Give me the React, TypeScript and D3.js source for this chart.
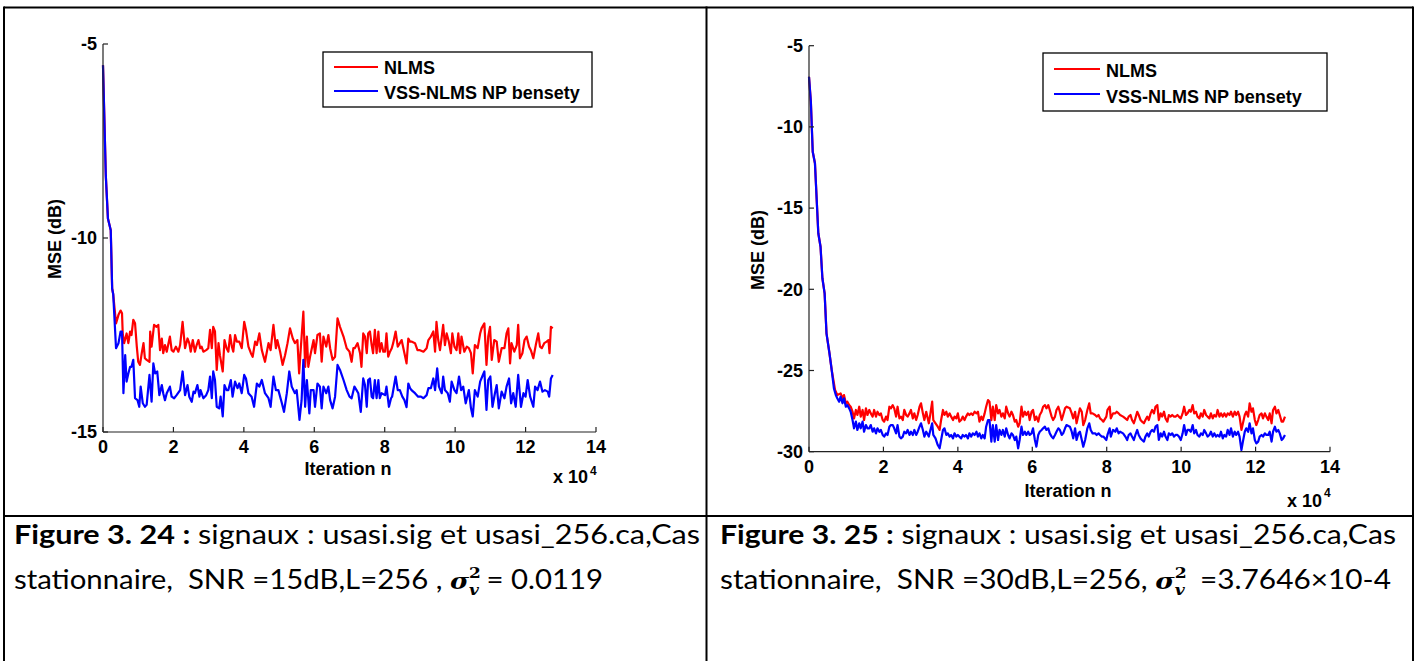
import React from 'react';
import * as d3 from 'd3';

type Pt = [number, number];

const xTicks = [0, 2, 4, 6, 8, 10, 12, 14];
const leftYTicks = [-5, -10, -15];
const rightYTicks = [-5, -10, -15, -20, -25, -30];
const legendLabels = ['NLMS', 'VSS-NLMS NP bensety'];

// Figure 3.24 (SNR 15 dB) — iteration in units of 1e4, MSE in dB
const leftNlms: Pt[] = [
  [0, -5.55], [0.08, -8.4], [0.14, -9.5], [0.22, -9.8], [0.26, -11.3], [0.29, -11.45], [0.37, -12.2], [0.44, -11.98], [0.5, -11.87], [0.54, -11.94],
  [0.56, -12.46], [0.6, -12.71], [0.67, -12.46], [0.72, -12.71], [0.77, -12.41], [0.81, -12.5], [0.86, -12.11], [0.91, -12.2], [0.96, -12.8], [1, -13.19],
  [1.05, -13.27], [1.1, -12.97], [1.15, -12.71], [1.19, -13.1], [1.24, -13.14], [1.32, -13.19], [1.34, -12.41], [1.38, -12.8], [1.45, -12.24], [1.52, -12.29],
  [1.57, -12.24], [1.62, -12.89], [1.67, -12.59], [1.71, -12.97], [1.76, -12.76], [1.81, -12.93], [1.9, -12.54], [1.95, -12.89], [2, -12.93], [2.07, -12.8],
  [2.14, -12.93], [2.19, -12.76], [2.26, -12.16], [2.33, -12.84], [2.4, -12.59], [2.45, -12.71], [2.49, -12.93], [2.55, -12.63], [2.61, -12.93], [2.66, -12.76],
  [2.71, -12.63], [2.76, -12.84], [2.8, -12.8], [2.85, -12.93], [2.93, -12.89], [2.99, -12.84], [3.04, -12.37], [3.09, -12.84], [3.13, -12.29], [3.18, -12.41],
  [3.23, -13.4], [3.28, -12.71], [3.32, -13.02], [3.4, -13.44], [3.45, -12.63], [3.51, -12.84], [3.56, -12.93], [3.61, -12.5], [3.66, -12.8], [3.7, -12.93],
  [3.75, -12.5], [3.8, -12.67], [3.87, -12.67], [3.94, -12.84], [4.01, -12.16], [4.06, -12.37], [4.13, -12.8], [4.2, -12.97], [4.25, -13.06], [4.32, -12.67],
  [4.37, -12.76], [4.44, -12.46], [4.51, -12.89], [4.6, -13.19], [4.7, -12.71], [4.76, -12.89], [4.84, -12.24], [4.91, -12.84], [4.95, -12.63], [5.03, -12.93],
  [5.1, -13.27], [5.17, -13.02], [5.24, -12.71], [5.31, -12.33], [5.39, -12.59], [5.45, -12.71], [5.52, -12.63], [5.57, -13.49], [5.62, -12.8], [5.69, -11.9],
  [5.74, -13.32], [5.79, -12.54], [5.83, -13.32], [5.88, -13.06], [5.98, -12.63], [6.02, -12.97], [6.09, -12.5], [6.16, -12.46], [6.21, -13.19], [6.26, -12.54],
  [6.34, -12.8], [6.4, -12.5], [6.45, -12.84], [6.52, -13.14], [6.59, -13.06], [6.66, -12.07], [6.73, -12.29], [6.83, -12.54], [6.92, -12.84], [7.0, -12.93],
  [7.06, -13.19], [7.11, -12.84], [7.15, -12.84], [7.23, -12.71], [7.3, -12.97], [7.34, -13.32], [7.39, -12.46], [7.44, -12.54], [7.49, -12.97], [7.53, -12.46],
  [7.58, -12.41], [7.63, -12.76], [7.67, -12.97], [7.72, -12.37], [7.77, -12.97], [7.82, -12.41], [7.86, -12.93], [7.91, -12.71], [7.96, -12.93], [8.01, -12.93],
  [8.05, -12.46], [8.1, -13.06], [8.15, -12.93], [8.2, -12.84], [8.24, -12.71], [8.31, -12.41], [8.37, -12.8], [8.43, -12.71], [8.48, -12.63], [8.56, -12.97],
  [8.62, -13.23], [8.67, -12.59], [8.72, -12.67], [8.76, -12.67], [8.86, -12.71], [8.93, -12.89], [9.0, -12.89], [9.1, -12.93], [9.19, -12.84], [9.24, -12.63],
  [9.31, -12.54], [9.38, -12.41], [9.43, -12.93], [9.47, -12.16], [9.52, -12.63], [9.57, -12.89], [9.62, -12.54], [9.66, -12.24], [9.71, -12.76], [9.76, -12.46],
  [9.82, -12.67], [9.88, -12.97], [9.92, -12.46], [9.98, -12.8], [10.04, -12.89], [10.09, -12.46], [10.14, -12.97], [10.18, -12.54], [10.26, -12.93], [10.33, -12.8],
  [10.39, -12.84], [10.45, -12.97], [10.5, -13.49], [10.56, -12.76], [10.64, -12.84], [10.71, -12.46], [10.75, -12.33], [10.83, -12.2], [10.89, -13.27], [10.94, -12.54],
  [10.99, -12.29], [11.04, -13.14], [11.11, -12.63], [11.18, -12.67], [11.24, -13.19], [11.32, -12.84], [11.4, -12.84], [11.46, -12.46], [11.51, -12.33], [11.56, -13.23],
  [11.6, -12.71], [11.68, -12.93], [11.75, -12.76], [11.79, -12.24], [11.84, -13.1], [11.91, -12.97], [11.97, -12.63], [12.03, -12.54], [12.1, -12.8], [12.15, -12.89],
  [12.22, -13.1], [12.29, -12.76], [12.36, -12.46], [12.41, -12.8], [12.46, -12.84], [12.53, -12.71], [12.6, -12.67], [12.65, -12.63], [12.68, -12.97], [12.72, -12.29],
  [12.77, -12.33],
];

const leftVss: Pt[] = [
  [0, -5.55], [0.08, -8.4], [0.14, -9.5], [0.22, -9.8], [0.26, -11.3], [0.29, -11.45], [0.37, -12.84], [0.44, -12.71], [0.5, -12.41], [0.54, -12.41],
  [0.58, -14.0], [0.63, -13.02], [0.67, -13.7], [0.72, -13.49], [0.77, -13.32], [0.81, -13.32], [0.86, -13.14], [0.91, -14.13], [0.98, -14.18], [1.03, -14.35],
  [1.07, -13.83], [1.13, -14.26], [1.19, -14.35], [1.24, -14.3], [1.32, -13.53], [1.38, -14.22], [1.43, -13.23], [1.48, -13.49], [1.54, -13.44], [1.6, -14.05],
  [1.67, -13.79], [1.71, -14.0], [1.76, -14.18], [1.81, -14.0], [1.9, -13.83], [1.95, -14.09], [2.02, -14.13], [2.09, -14.05], [2.19, -13.92], [2.26, -13.44],
  [2.33, -14.05], [2.4, -13.79], [2.45, -14.09], [2.52, -14.22], [2.57, -13.96], [2.61, -14.0], [2.68, -13.79], [2.74, -14.09], [2.77, -13.92], [2.85, -14.13],
  [2.93, -14.05], [2.99, -13.92], [3.04, -13.57], [3.09, -14.13], [3.13, -13.44], [3.18, -13.66], [3.23, -14.35], [3.3, -14.39], [3.34, -14.09], [3.4, -14.6],
  [3.45, -13.79], [3.51, -13.92], [3.56, -13.92], [3.63, -13.66], [3.68, -14.09], [3.75, -13.7], [3.82, -13.87], [3.87, -13.75], [3.94, -14.0], [4.01, -13.53],
  [4.06, -13.62], [4.13, -14.0], [4.22, -14.09], [4.29, -14.35], [4.37, -13.75], [4.44, -13.83], [4.51, -13.66], [4.6, -14.0], [4.7, -14.13], [4.76, -14.35],
  [4.84, -13.57], [4.91, -13.92], [4.98, -13.92], [5.08, -14.26], [5.14, -14.48], [5.22, -14.0], [5.29, -13.44], [5.36, -13.83], [5.45, -14.0], [5.5, -13.92],
  [5.58, -14.69], [5.64, -14.18], [5.69, -13.14], [5.74, -14.35], [5.79, -13.66], [5.86, -14.52], [5.9, -13.92], [5.98, -13.92], [6.02, -14.35], [6.09, -13.75],
  [6.16, -13.83], [6.21, -14.39], [6.26, -13.83], [6.34, -14.0], [6.4, -13.83], [6.45, -14.18], [6.52, -14.39], [6.59, -14.09], [6.66, -13.27], [6.73, -13.4],
  [6.83, -13.66], [6.92, -13.92], [7.0, -14.09], [7.06, -14.13], [7.14, -13.83], [7.2, -13.92], [7.25, -14.0], [7.32, -14.48], [7.39, -13.62], [7.44, -13.79],
  [7.49, -14.35], [7.53, -13.66], [7.58, -13.62], [7.63, -14.09], [7.67, -14.13], [7.72, -13.66], [7.77, -14.13], [7.82, -13.66], [7.86, -14.13], [7.91, -14.0],
  [8.01, -14.05], [8.05, -13.83], [8.12, -14.35], [8.18, -14.13], [8.21, -14.09], [8.31, -13.57], [8.37, -13.92], [8.43, -13.92], [8.5, -14.09], [8.56, -14.18],
  [8.62, -14.36], [8.67, -13.75], [8.72, -13.87], [8.76, -13.92], [8.86, -14.0], [8.95, -14.09], [9.03, -14.09], [9.1, -14.13], [9.19, -14.05], [9.24, -13.87],
  [9.31, -13.87], [9.38, -13.62], [9.43, -13.92], [9.49, -13.36], [9.54, -13.83], [9.62, -14.0], [9.66, -13.57], [9.71, -13.92], [9.79, -14.0], [9.85, -14.22],
  [9.9, -13.7], [9.98, -13.92], [10.04, -14.0], [10.11, -13.57], [10.17, -13.92], [10.23, -13.83], [10.3, -14.26], [10.39, -13.92], [10.45, -14.39], [10.5, -14.6],
  [10.56, -13.92], [10.64, -14.09], [10.71, -13.7], [10.77, -13.57], [10.83, -13.44], [10.89, -14.43], [10.94, -13.66], [11.0, -13.57], [11.06, -14.35], [11.13, -14.0],
  [11.18, -13.79], [11.24, -14.39], [11.32, -13.96], [11.4, -14.13], [11.46, -13.83], [11.53, -13.62], [11.59, -14.26], [11.65, -14.0], [11.72, -14.35], [11.79, -13.53],
  [11.87, -14.35], [11.94, -14.0], [12.0, -14.09], [12.06, -13.66], [12.13, -14.09], [12.22, -14.35], [12.27, -13.83], [12.34, -13.92], [12.41, -13.7], [12.48, -13.96],
  [12.55, -13.92], [12.63, -13.96], [12.67, -14.09], [12.72, -13.62], [12.77, -13.53],
];

// Figure 3.25 (SNR 30 dB)
const rightNlms: Pt[] = [
  [0, -6.91], [0.05, -8.45], [0.1, -11.53], [0.16, -12.24], [0.25, -16.55], [0.31, -17.38], [0.36, -19.32], [0.42, -20.25], [0.47, -22.71], [0.55, -23.94],
  [0.61, -24.97], [0.7, -26.2], [0.76, -26.51], [0.85, -26.41], [0.9, -26.71], [0.94, -26.51], [0.99, -27.02], [1.03, -26.92], [1.08, -27.13], [1.12, -27.23],
  [1.17, -27.54], [1.21, -27.95], [1.26, -27.43], [1.3, -27.74], [1.35, -27.23], [1.39, -27.84], [1.44, -27.43], [1.48, -28.05], [1.53, -27.33], [1.57, -27.74],
  [1.62, -27.43], [1.66, -27.64], [1.71, -27.84], [1.75, -27.43], [1.8, -27.84], [1.84, -27.54], [1.89, -27.74], [1.93, -27.64], [1.98, -28.05], [2.02, -28.15],
  [2.07, -27.84], [2.11, -28.05], [2.16, -27.23], [2.2, -27.33], [2.25, -27.13], [2.29, -27.33], [2.34, -27.84], [2.38, -27.23], [2.43, -27.95], [2.47, -27.84],
  [2.52, -28.05], [2.56, -27.43], [2.61, -27.74], [2.65, -27.84], [2.7, -27.64], [2.74, -27.43], [2.79, -27.95], [2.83, -27.64], [2.88, -28.05], [2.92, -27.74],
  [2.97, -27.23], [3.01, -27.02], [3.06, -27.64], [3.1, -28.05], [3.15, -27.54], [3.22, -28.25], [3.25, -27.84], [3.31, -26.92], [3.34, -28.05], [3.4, -28.25],
  [3.46, -28.46], [3.51, -28.66], [3.55, -28.05], [3.6, -27.43], [3.64, -27.74], [3.69, -27.54], [3.73, -27.84], [3.78, -27.64], [3.82, -27.84], [3.87, -28.05],
  [3.91, -27.84], [3.96, -27.95], [4, -27.64], [4.04, -28.15], [4.09, -28.05], [4.13, -27.84], [4.18, -28.05], [4.22, -27.84], [4.27, -27.64], [4.31, -27.74],
  [4.36, -27.64], [4.4, -27.74], [4.45, -27.54], [4.5, -27.64], [4.54, -27.54], [4.58, -28.15], [4.63, -27.84], [4.67, -28.05], [4.72, -27.64], [4.76, -27.23],
  [4.81, -26.82], [4.85, -26.92], [4.9, -28.05], [4.94, -27.23], [4.99, -28.05], [5.03, -27.13], [5.08, -27.64], [5.12, -27.43], [5.17, -27.84], [5.21, -27.64],
  [5.26, -27.95], [5.3, -27.23], [5.35, -27.64], [5.39, -27.84], [5.44, -27.54], [5.48, -27.74], [5.53, -28.15], [5.57, -28.05], [5.62, -28.46], [5.66, -28.25],
  [5.71, -27.23], [5.75, -27.84], [5.8, -27.54], [5.84, -27.74], [5.89, -27.54], [5.93, -28.05], [5.98, -27.54], [6.02, -27.43], [6.07, -28.05], [6.11, -27.84],
  [6.16, -28.15], [6.2, -27.74], [6.25, -27.54], [6.29, -27.23], [6.34, -27.13], [6.38, -27.33], [6.43, -27.13], [6.47, -27.43], [6.52, -27.84], [6.56, -28.05],
  [6.61, -27.84], [6.65, -27.43], [6.7, -27.23], [6.74, -27.54], [6.79, -28.05], [6.83, -27.74], [6.88, -27.33], [6.92, -27.23], [7.01, -27.33], [7.06, -27.64],
  [7.1, -27.95], [7.15, -27.54], [7.19, -28.25], [7.24, -27.74], [7.28, -27.33], [7.33, -27.54], [7.37, -28.36], [7.42, -28.05], [7.48, -27.43], [7.53, -27.02],
  [7.57, -27.64], [7.62, -27.64], [7.69, -27.74], [7.73, -27.84], [7.78, -27.74], [7.82, -27.95], [7.87, -28.05], [7.91, -28.15], [7.99, -27.84], [8.02, -27.43],
  [8.08, -27.23], [8.11, -27.95], [8.17, -27.64], [8.23, -27.64], [8.27, -27.54], [8.32, -27.64], [8.36, -27.74], [8.44, -27.84], [8.5, -27.95], [8.55, -28.05],
  [8.59, -27.84], [8.64, -27.74], [8.68, -28.05], [8.73, -28.25], [8.77, -27.95], [8.82, -27.54], [8.86, -27.74], [8.91, -28.05], [8.95, -28.15], [9.0, -28.25],
  [9.04, -28.05], [9.09, -27.84], [9.13, -28.05], [9.18, -27.64], [9.22, -27.43], [9.27, -27.64], [9.31, -27.23], [9.36, -27.13], [9.4, -28.05], [9.45, -27.64],
  [9.49, -27.84], [9.54, -27.54], [9.58, -27.95], [9.63, -28.15], [9.67, -27.74], [9.72, -27.84], [9.76, -27.74], [9.81, -27.84], [9.85, -27.84], [9.9, -27.74],
  [9.94, -27.84], [9.99, -27.95], [10.04, -27.64], [10.08, -27.23], [10.13, -27.74], [10.17, -27.64], [10.22, -27.43], [10.26, -27.54], [10.31, -27.13], [10.35, -27.64],
  [10.4, -27.54], [10.44, -27.84], [10.49, -27.95], [10.53, -27.64], [10.58, -27.84], [10.62, -27.43], [10.67, -27.74], [10.71, -27.84], [10.76, -27.95], [10.8, -27.64],
  [10.85, -27.95], [10.89, -27.74], [10.94, -27.84], [10.98, -27.43], [11.03, -27.84], [11.07, -27.64], [11.12, -27.84], [11.16, -27.64], [11.21, -27.84], [11.25, -27.64],
  [11.3, -27.74], [11.34, -27.54], [11.39, -27.84], [11.44, -27.54], [11.48, -27.74], [11.53, -27.54], [11.57, -27.84], [11.62, -28.66], [11.66, -28.25], [11.71, -27.74],
  [11.75, -27.54], [11.8, -27.84], [11.84, -27.02], [11.89, -27.54], [11.93, -27.33], [11.98, -28.05], [12.02, -28.36], [12.07, -28.05], [12.11, -27.74], [12.16, -27.64],
  [12.2, -27.95], [12.25, -27.64], [12.29, -27.84], [12.34, -28.05], [12.38, -27.64], [12.43, -28.25], [12.47, -27.43], [12.52, -27.23], [12.56, -27.64], [12.61, -27.43],
  [12.65, -27.74], [12.7, -28.15], [12.74, -28.15], [12.79, -27.84],
];

const rightVss: Pt[] = [
  [0, -6.91], [0.05, -8.45], [0.1, -11.53], [0.16, -12.24], [0.25, -16.55], [0.31, -17.38], [0.36, -19.32], [0.42, -20.25], [0.47, -22.71], [0.55, -23.94],
  [0.61, -24.97], [0.67, -26.1], [0.72, -26.51], [0.76, -26.71], [0.81, -26.92], [0.85, -26.61], [0.9, -27.02], [0.94, -26.71], [0.99, -27.23], [1.03, -27.13],
  [1.08, -27.33], [1.12, -27.54], [1.17, -28.05], [1.21, -28.56], [1.26, -28.15], [1.3, -28.66], [1.35, -28.25], [1.39, -28.56], [1.44, -28.15], [1.48, -28.77],
  [1.53, -28.36], [1.57, -28.56], [1.62, -28.56], [1.66, -28.36], [1.71, -28.77], [1.75, -28.56], [1.8, -28.87], [1.84, -28.56], [1.89, -28.77], [1.93, -28.66],
  [1.98, -28.97], [2.02, -29.07], [2.07, -28.87], [2.11, -28.97], [2.16, -28.46], [2.2, -28.36], [2.25, -28.36], [2.29, -28.56], [2.34, -28.87], [2.38, -28.36],
  [2.43, -29.07], [2.47, -29.18], [2.52, -29.07], [2.56, -28.77], [2.61, -28.87], [2.65, -28.66], [2.7, -28.97], [2.74, -28.77], [2.79, -28.97], [2.83, -28.66],
  [2.88, -28.97], [2.92, -28.77], [2.97, -28.46], [3.01, -28.25], [3.06, -28.66], [3.1, -29.07], [3.15, -28.77], [3.22, -29.07], [3.25, -28.77], [3.31, -28.25],
  [3.34, -28.97], [3.4, -29.18], [3.46, -29.59], [3.51, -29.79], [3.55, -29.28], [3.6, -28.66], [3.64, -28.56], [3.69, -28.97], [3.73, -28.87], [3.78, -29.07],
  [3.82, -28.97], [3.87, -29.18], [3.91, -28.87], [3.96, -29.07], [4, -28.97], [4.04, -29.07], [4.09, -29.18], [4.13, -28.97], [4.18, -29.07], [4.22, -28.97],
  [4.27, -29.18], [4.31, -28.87], [4.36, -29.07], [4.4, -28.87], [4.45, -28.97], [4.5, -28.77], [4.54, -29.07], [4.58, -28.87], [4.63, -29.18], [4.67, -28.97],
  [4.72, -29.18], [4.76, -28.46], [4.81, -28.05], [4.85, -28.05], [4.9, -29.38], [4.94, -28.36], [4.99, -29.38], [5.03, -28.36], [5.08, -29.28], [5.12, -28.66],
  [5.17, -28.97], [5.21, -28.66], [5.26, -29.07], [5.3, -28.56], [5.35, -28.97], [5.39, -29.18], [5.44, -28.87], [5.48, -28.97], [5.53, -29.28], [5.57, -29.07],
  [5.62, -29.79], [5.66, -29.28], [5.71, -28.46], [5.75, -28.97], [5.8, -28.77], [5.84, -28.97], [5.89, -28.77], [5.93, -28.97], [5.98, -28.87], [6.02, -28.56],
  [6.07, -29.28], [6.11, -29.69], [6.16, -28.97], [6.2, -28.77], [6.25, -28.66], [6.29, -28.56], [6.34, -28.46], [6.38, -28.66], [6.43, -28.56], [6.47, -28.87],
  [6.52, -29.07], [6.56, -29.18], [6.61, -28.97], [6.65, -28.77], [6.7, -28.56], [6.74, -28.66], [6.79, -28.97], [6.83, -28.87], [6.88, -28.56], [6.92, -28.36],
  [7.01, -28.46], [7.06, -28.77], [7.1, -29.18], [7.15, -28.56], [7.19, -29.28], [7.24, -28.87], [7.28, -28.77], [7.33, -29.28], [7.37, -29.69], [7.42, -29.28],
  [7.48, -28.56], [7.53, -28.25], [7.57, -28.66], [7.62, -28.87], [7.69, -28.87], [7.73, -28.97], [7.78, -28.87], [7.82, -28.97], [7.87, -29.07], [7.91, -29.07],
  [7.99, -29.28], [8.02, -28.97], [8.08, -28.56], [8.11, -29.07], [8.17, -28.66], [8.23, -28.77], [8.27, -28.56], [8.32, -28.87], [8.36, -28.77], [8.44, -28.87],
  [8.5, -29.07], [8.55, -29.28], [8.59, -28.97], [8.64, -28.87], [8.68, -29.07], [8.73, -29.28], [8.77, -28.97], [8.82, -28.66], [8.86, -28.97], [8.91, -29.18],
  [8.95, -29.28], [9.0, -29.38], [9.04, -29.07], [9.09, -28.87], [9.13, -29.07], [9.18, -28.77], [9.22, -28.66], [9.27, -28.77], [9.31, -28.46], [9.36, -28.36],
  [9.4, -29.28], [9.45, -28.87], [9.49, -29.07], [9.54, -28.77], [9.58, -29.07], [9.63, -29.28], [9.67, -28.87], [9.72, -28.97], [9.76, -28.87], [9.81, -29.07],
  [9.85, -28.97], [9.9, -28.97], [9.94, -29.07], [9.99, -29.28], [10.04, -28.87], [10.08, -28.36], [10.13, -28.97], [10.17, -28.66], [10.22, -28.66], [10.26, -28.77],
  [10.31, -28.36], [10.35, -28.87], [10.4, -28.66], [10.44, -28.97], [10.49, -29.07], [10.53, -28.87], [10.58, -28.97], [10.62, -28.66], [10.67, -28.87], [10.71, -29.07],
  [10.76, -28.97], [10.8, -28.77], [10.85, -29.07], [10.89, -28.87], [10.94, -29.07], [10.98, -28.97], [11.03, -29.07], [11.07, -28.77], [11.12, -29.18], [11.16, -28.97],
  [11.21, -29.07], [11.25, -28.66], [11.3, -28.97], [11.34, -28.56], [11.39, -29.07], [11.44, -28.77], [11.48, -28.97], [11.53, -28.77], [11.57, -29.07], [11.62, -29.9],
  [11.66, -29.38], [11.71, -28.77], [11.75, -28.56], [11.8, -28.77], [11.84, -28.25], [11.89, -28.87], [11.93, -28.56], [11.98, -29.28], [12.02, -29.49], [12.07, -29.38],
  [12.11, -29.07], [12.16, -28.97], [12.2, -29.07], [12.25, -28.87], [12.29, -28.97], [12.34, -28.97], [12.38, -28.77], [12.43, -29.38], [12.47, -28.77], [12.52, -28.46],
  [12.56, -28.77], [12.61, -28.66], [12.65, -28.87], [12.7, -29.28], [12.74, -29.18], [12.79, -28.97],
];

const AX_FONT = "'Liberation Sans', Arial, Helvetica, sans-serif";
const CAP_FONT = "Lato, 'Open Sans', sans-serif";
const MATH_FONT = "'DejaVu Serif', serif";

type PlotCfg = {
  x0: number; x1: number; yTop: number; yBot: number;
  yDomain: [number, number]; yTicks: number[];
  red: Pt[]; blue: Pt[];
  legend: { x: number; y: number; w: number; h: number; lx0: number; lx1: number; ly: number[]; tx: number; ty: number[] };
  yLabel: { x: number; y: number };
  tickLabelY: number;
  yTickRight: number;
  xLabel: { x: number; y: number };
  exp: { x: number; y: number; sx: number; sy: number };
};

function Plot({ c }: { c: PlotCfg }) {
  const x = d3.scaleLinear().domain([0, 14]).range([c.x0, c.x1]);
  const y = d3.scaleLinear().domain(c.yDomain).range([c.yBot, c.yTop]);
  const line = d3.line<Pt>().x((d) => x(d[0])).y((d) => y(d[1]));
  const fs = 18;
  return (
    <g>
      <path d={line(c.red) || ''} fill="none" stroke="#ff0000" strokeWidth={2.2} strokeLinejoin="round" />
      <path d={line(c.blue) || ''} fill="none" stroke="#0000ff" strokeWidth={2.2} strokeLinejoin="round" />
      <line x1={c.x0} x2={c.x0} y1={c.yTop} y2={c.yBot} stroke="#222" strokeWidth={1.2} />
      <line x1={c.x0} x2={c.x1} y1={c.yBot} y2={c.yBot} stroke="#222" strokeWidth={1.2} />
      {xTicks.map((t) => (
        <g key={'xt' + t}>
          <line x1={x(t)} x2={x(t)} y1={c.yBot} y2={c.yBot - 5} stroke="#222" strokeWidth={1.2} />
          <text x={x(t)} y={c.tickLabelY} textAnchor="middle" fontFamily={AX_FONT} fontWeight="bold" fontSize={fs} fill="#000">{t}</text>
        </g>
      ))}
      {c.yTicks.map((t) => (
        <g key={'yt' + t}>
          <line x1={c.x0} x2={c.x0 + 5} y1={y(t)} y2={y(t)} stroke="#222" strokeWidth={1.2} />
          <text x={c.yTickRight} y={y(t)} dy="0.35em" textAnchor="end" fontFamily={AX_FONT} fontWeight="bold" fontSize={fs} fill="#000">{t}</text>
        </g>
      ))}
      <text transform={`translate(${c.yLabel.x},${c.yLabel.y}) rotate(-90)`} textAnchor="middle" fontFamily={AX_FONT} fontWeight="bold" fontSize={fs} fill="#000">MSE (dB)</text>
      <text x={c.xLabel.x} y={c.xLabel.y} textAnchor="middle" fontFamily={AX_FONT} fontWeight="bold" fontSize={fs} fill="#000">Iteration n</text>
      <text x={c.exp.x} y={c.exp.y} fontFamily={AX_FONT} fontWeight="bold" fontSize={fs} fill="#000">x 10</text>
      <text x={c.exp.sx} y={c.exp.sy} fontFamily={AX_FONT} fontWeight="bold" fontSize={12} fill="#000">4</text>
      <rect x={c.legend.x} y={c.legend.y} width={c.legend.w} height={c.legend.h} fill="#fff" stroke="#000" strokeWidth={1.3} />
      {legendLabels.map((lab, i) => (
        <g key={lab}>
          <line x1={c.legend.lx0} x2={c.legend.lx1} y1={c.legend.ly[i]} y2={c.legend.ly[i]} stroke={i === 0 ? '#ff0000' : '#0000ff'} strokeWidth={2.2} />
          <text x={c.legend.tx} y={c.legend.ty[i]} fontFamily={AX_FONT} fontWeight="bold" fontSize={fs} fill="#000">{lab}</text>
        </g>
      ))}
    </g>
  );
}

const leftCfg: PlotCfg = {
  x0: 103, x1: 596, yTop: 44, yBot: 432, yDomain: [-15, -5], yTicks: leftYTicks,
  red: leftNlms, blue: leftVss,
  legend: { x: 323, y: 52, w: 269, h: 55, lx0: 334, lx1: 378, ly: [67, 91], tx: 384, ty: [74, 99] },
  yLabel: { x: 61, y: 239 }, tickLabelY: 453, yTickRight: 97, xLabel: { x: 348, y: 475 },
  exp: { x: 553, y: 483, sx: 590, sy: 475 },
};

const rightCfg: PlotCfg = {
  x0: 809, x1: 1330, yTop: 45.7, yBot: 451.7, yDomain: [-30, -5], yTicks: rightYTicks,
  red: rightNlms, blue: rightVss,
  legend: { x: 1043, y: 53, w: 284, h: 58, lx0: 1054, lx1: 1100, ly: [69, 94], tx: 1106, ty: [76.5, 103] },
  yLabel: { x: 764, y: 250 }, tickLabelY: 473, yTickRight: 803, xLabel: { x: 1068, y: 497 },
  exp: { x: 1287, y: 507, sx: 1324, sy: 497 },
};

type CapProps = { x: number; y1: number; y2: number; w1: number; w2: number; fig: string; rest2a: string; rest2b: string };

function Caption({ x, y1, y2, w1, w2, fig, rest2a, rest2b }: CapProps) {
  const fs = 26;
  return (
    <g>
      <text x={x} y={y1} fontFamily={CAP_FONT} fontSize={fs} fill="#000" style={{ whiteSpace: 'pre' }} textLength={w1} lengthAdjust="spacingAndGlyphs">
        <tspan fontWeight="bold">{fig}</tspan>
        <tspan> signaux : usasi.sig et usasi_256.ca,Cas</tspan>
      </text>
      <text x={x} y={y2} fontFamily={CAP_FONT} fontSize={fs} fill="#000" style={{ whiteSpace: 'pre' }} textLength={w2} lengthAdjust="spacingAndGlyphs">
        <tspan>{rest2a}</tspan>
        <tspan fontFamily={MATH_FONT} fontStyle="italic" fontWeight="bold" fontSize={23}>σ</tspan>
        <tspan fontFamily={MATH_FONT} fontWeight="bold" fontSize={15} dy={-11}>2</tspan>
        <tspan fontFamily={MATH_FONT} fontStyle="italic" fontWeight="bold" fontSize={15} dx={-10.4} dy={17}>v</tspan>
        <tspan dy={-6}>{rest2b}</tspan>
      </text>
    </g>
  );
}

export default function App() {
  return (
    <svg width={1416} height={661} style={{ position: 'absolute', left: 0, top: 0, background: '#fff' }}>
      <rect x={0} y={0} width={1416} height={661} fill="#fff" />
      <Plot c={leftCfg} />
      <Plot c={rightCfg} />
      <g stroke="#000" strokeWidth={2} fill="none">
        <line x1={4} x2={1413} y1={7.5} y2={7.5} />
        <line x1={4} x2={1413} y1={516} y2={516} />
        <line x1={4} x2={4} y1={6.5} y2={661} />
        <line x1={706.5} x2={706.5} y1={6.5} y2={661} />
        <line x1={1413} x2={1413} y1={6.5} y2={661} />
      </g>
      <Caption x={14} y1={544} y2={589} w1={686} w2={589} fig="Figure 3. 24 :" rest2a="stationnaire,  SNR =15dB,L=256 , " rest2b=" = 0.0119" />
      <Caption x={720} y1={544} y2={589} w1={676} w2={671} fig="Figure 3. 25 :" rest2a="stationnaire,  SNR =30dB,L=256, " rest2b="  =3.7646×10-4" />
    </svg>
  );
}
